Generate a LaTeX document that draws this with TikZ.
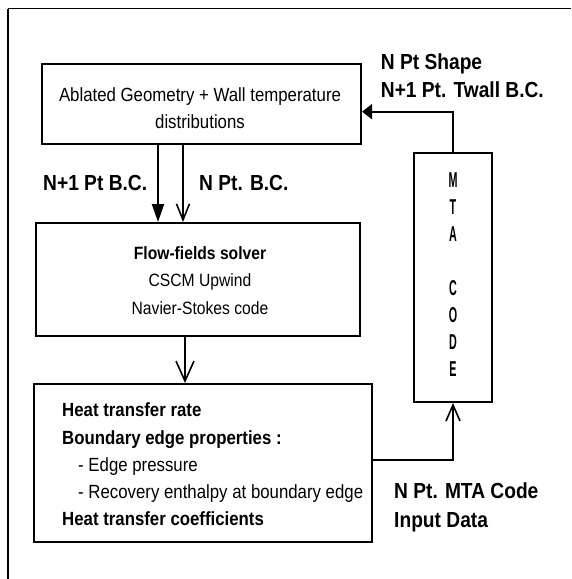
\documentclass[tikz,border=0pt]{standalone}
\usepackage{fontspec}
\usetikzlibrary{arrows.meta}
\newfontfamily\nf{Liberation Sans}[FakeStretch=0.88]
\newfontfamily\mf{Liberation Sans}[FakeStretch=0.5]
\begin{document}
\begin{tikzpicture}[x=1pt,y=-1pt,
  box/.style={draw=black,line width=2.4pt,fill=white,inner sep=0pt},
  lbl/.style={inner sep=0pt,font=\nf\bfseries\fontsize{21.8}{28.3}\selectfont,align=left},
  conn/.style={line width=2pt,line join=miter},
  solidtip/.style={-{Triangle[length=18pt,width=12pt]}},
  opentip/.style={-{Straight Barb[length=16pt,width=13pt,line width=1.6pt]}}
]
\useasboundingbox (0,0) rectangle (571,579);
% frame
\coordinate (fr1) at (8,8.5);
\coordinate (fr2) at (571,8.5);
\coordinate (fr3) at (8,579);
\draw[line width=1.8pt] (fr1) -- (fr2);
\draw[line width=1.1pt] (fr1) -- (fr3);

% boxes
\node[box,minimum width=319pt,minimum height=80pt] (b1) at (201.35,103.85) {};
\node[box,minimum width=323.6pt,minimum height=112.6pt] (b2) at (198,279.5) {};
\node[box,minimum width=337.6pt,minimum height=157.6pt] (b3) at (203,463) {};
\node[box,minimum width=77.6pt,minimum height=248.6pt] (mta) at (453,277.5) {};

% texts in boxes
\node[inner sep=0pt,align=center,font=\nf\fontsize{19.1}{26.7}\selectfont] (t1) at (200,108.4)
  {Ablated Geometry + Wall temperature\\distributions};
\node[inner sep=0pt,align=center,font=\nf\fontsize{17.8}{27.5}\selectfont] (t2) at (200,280.5)
  {{\bfseries Flow-fields solver}\\CSCM Upwind\\Navier-Stokes code};
\node[inner sep=0pt,align=left,anchor=west,font=\nf\fontsize{19.1}{27.25}\selectfont] (t3) at (62,464.5)
  {{\bfseries Heat transfer rate}\\{\bfseries Boundary edge properties :}\\\hspace*{16pt}- Edge pressure\\\hspace*{16pt}- Recovery enthalpy at boundary edge\\{\bfseries Heat transfer coefficients}};
\node[inner sep=0pt,align=center,font=\mf\bfseries\fontsize{21.5}{27}\selectfont] (t4) at (453,274.5)
  {M\\T\\A\\[27pt]C\\O\\D\\E};

% labels
\node[lbl,anchor=west] (l1) at (380.7,75.8) {N Pt Shape\\N+1 Pt. Twall B.C.};
\node[lbl,anchor=west] (l2) at (43,183) {N+1 Pt B.C.};
\node[lbl,anchor=west] (l3) at (199,183) {N Pt. B.C.};
\node[lbl,anchor=west,font=\nf\bfseries\fontsize{21.8}{29}\selectfont] (l4) at (394,507.5) {N Pt. MTA Code\\Input Data};

% connectors
\draw[conn,solidtip] (b1.south -| 158,0) -- (b2.north -| 158,0);
\draw[conn,line width=1.5pt,opentip] (b1.south -| 183,0) -- (b2.north -| 183,0);
\draw[conn,-{Straight Barb[length=20pt,width=18pt,line width=1.6pt]}] (b2.south -| 185,0) -- (b3.north -| 185,0);
\draw[conn,-{Triangle[length=10pt,width=15pt]}] (mta.north) |- (b1.east |- 0,111.7);
\draw[conn,-{Straight Barb[length=16pt,width=14pt,line width=1.6pt]}] (b3.east |- 0,460) -| (mta.south);
\end{tikzpicture}
\end{document}
